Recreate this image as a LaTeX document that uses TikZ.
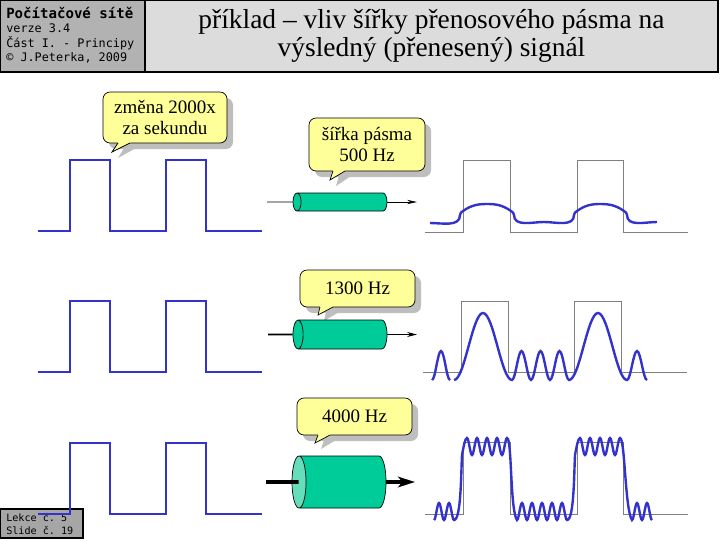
\documentclass[tikz,border=0pt]{standalone}
\usepackage{fontspec}
\setmainfont{Liberation Serif}
\setmonofont{DejaVu Sans Mono}
\usepackage{tikz}
\usetikzlibrary{
  arrows.meta,
  shapes.geometric
}
\definecolor{psBlue}{HTML}{3333CC}
\definecolor{psTube}{HTML}{00CC99}
\definecolor{psTubeL}{HTML}{66DDBB}
\definecolor{psNote}{HTML}{FFFF99}
\definecolor{psShadow}{HTML}{BEBEBE}
\definecolor{psHeadD}{HTML}{B2B2B2}
\definecolor{psHeadL}{HTML}{DCDCDC}
\definecolor{psFoot}{HTML}{A6A6A6}

\begin{document}
\begin{tikzpicture}[
  x=0.025cm, y=-0.025cm,
  every node/.style={inner sep=0pt, align=center},
  headbox/.style={draw=black, line width=0.8pt},
  monobold/.style={font=\ttfamily\bfseries\fontsize{10}{12}\selectfont, anchor=west},
  mono/.style={font=\ttfamily\fontsize{8.4}{10}\selectfont, anchor=west},
  footmono/.style={font=\ttfamily\fontsize{7.2}{9}\selectfont, anchor=west},
  title/.style={font=\fontsize{19.5}{20}\selectfont},
  square/.style={draw=psBlue, line width=1.5pt},
  refwave/.style={draw=gray, line width=0.45pt},
  sig/.style={draw=psBlue, line width=1.7pt},
  noteshadow/.style={fill=psShadow, rounded corners=5pt},
  notebox/.style={draw=black, fill=psNote, line width=0.5pt, rounded corners=5pt},
  notetip/.style={fill=psNote},
  noteedge/.style={draw=black, line width=0.5pt},
  notetext/.style={font=\fontsize{13.5}{15}\selectfont},
  tube/.style={
    cylinder, shape border rotate=180, draw=black, line width=0.5pt,
    cylinder uses custom fill, cylinder body fill=psTube,
    cylinder end fill=psTube, minimum height=2.35cm, inner xsep=0pt,
    anchor=shape center
  },
  wire1/.style={-{Stealth[length=7pt, width=3pt]}, line width=0.5pt},
  wire2/.style={-{Stealth[length=7pt, width=3.5pt]}, line width=1.1pt},
  wire3/.style={-{Stealth[length=12pt, width=7.5pt, inset=3pt]}, line width=2.6pt}
]
 \useasboundingbox (0,0) rectangle (720,540);

 % Header
 \draw[headbox, fill=psHeadD] (0.5,0.5) rectangle (145,72);
 \draw[headbox, fill=psHeadL] (145,0.5) rectangle (718,72);
 \node[monobold] (course) at (6,13) {Počítačové sítě};
 \node[mono] (ver) at (6,28) {verze 3.4};
 \node[mono] (part) at (6,43) {Část I. - Principy};
 \node[mono] (auth) at (6,58) {© J.Peterka, 2009};
 \node[title] (ttl) at (431.5,36) {příklad – vliv šířky přenosového pásma na\\výsledný (přenesený) signál};

 % Footer
 \draw[headbox, fill=psFoot] (0.5,509) rectangle (83,538);
 \node[footmono] (lect) at (6,518) {Lekce č. 5};
 \node[footmono] (slide) at (6,531) {Slide č. 19};

 % Row 1: 500 Hz
 \draw[square] (38,231) -- (70,231) -- (70,160) -- (110,160) -- (110,231) -- (166,231)
   -- (166,160) -- (206,160) -- (206,231) -- (262,231);
 \fill[noteshadow] (109,98) rectangle (233,149);
 \fill[psShadow] (124,148) -- (118,158) -- (136,148) -- cycle;
 \draw[notebox] (103,92) rectangle (227,143);
 \fill[notetip] (117,140) -- (118,143) -- (112,152) -- (130,143) -- (131,140) -- cycle;
 \draw[noteedge] (118,143) -- (112,152) -- (130,143);
 \node[notetext] (chg) at (165,117.5) {změna 2000x\\za sekundu};

 \fill[noteshadow] (315,124) rectangle (431,177);
 \fill[psShadow] (339,176) -- (336,186) -- (351,176) -- cycle;
 \draw[notebox] (309,118) rectangle (425,171);
 \fill[notetip] (332,168) -- (333,171) -- (330,180) -- (345,171) -- (346,168) -- cycle;
 \draw[noteedge] (333,171) -- (330,180) -- (345,171);
 \node[notetext] (bw1) at (367,144.5) {šířka pásma\\500 Hz};

 \node[tube, minimum width=0.45cm, inner ysep=0.225cm, aspect=0.45] (cyl1) at (340,202) {};
 \coordinate (in1) at (267,202);
 \coordinate (out1) at (417,202);
 \draw[line width=0.5pt] (in1) -- (cyl1.west);
 \draw[wire1] (cyl1.east) -- (out1);

 \draw[refwave] (425,232) -- (463,232) -- (463,160) -- (510,160) -- (510,232) -- (577,232)
   -- (577,160) -- (623,160) -- (623,232) -- (688,232);
 \draw[sig] (430,223) to[out=0,in=-90] (460,215) to[out=90,in=215] (463,211)
   to[out=35,in=180] (487,204) to[out=0,in=145] (511,211) to[out=-35,in=90] (514,215)
   to[out=-90,in=180] (544,222) to[out=0,in=-90] (574,215) to[out=90,in=215] (577,211)
   to[out=35,in=180] (600,204) to[out=0,in=145] (624,211) to[out=-35,in=90] (627,215)
   to[out=-90,in=180] (657,222);

 % Row 2: 1300 Hz
 \draw[square] (38,372) -- (70,372) -- (70,301) -- (110,301) -- (110,372) -- (166,372)
   -- (166,301) -- (206,301) -- (206,372) -- (262,372);
 \fill[noteshadow] (306,276) rectangle (421,313);
 \fill[psShadow] (326,312) -- (324,321) -- (339,312) -- cycle;
 \draw[notebox] (300,270) rectangle (415,307);
 \fill[notetip] (319,304) -- (320,307) -- (318,315) -- (333,307) -- (334,304) -- cycle;
 \draw[noteedge] (320,307) -- (318,315) -- (333,307);
 \node[notetext] (bw2) at (357.5,288.5) {1300 Hz};

 \node[tube, minimum width=0.725cm, inner ysep=0.3625cm, aspect=0.35] (cyl2) at (340,334.5) {};
 \coordinate (in2) at (268,334.5);
 \coordinate (out2) at (417,334.5);
 \draw[line width=1.1pt] (in2) -- (cyl2.west);
 \draw[wire2] (cyl2.east) -- (out2);

 \draw[refwave] (423,372) -- (461,372) -- (461,301) -- (508,301) -- (508,372) -- (574,372)
   -- (574,301) -- (621,301) -- (621,372) -- (687,372);
 \draw[sig] (432,380) cos ++(4.5,-14.5) sin ++(4.5,-14.5) cos ++(4.5,14.5) sin ++(4.5,14.5)
   (454,380) cos ++(14.5,-33.5) sin ++(14.5,-33.5) cos ++(14.5,33.5) sin ++(14.5,33.5)
   \foreach \k in {1,2,3} {
     cos ++(4.75,-14.5) sin ++(4.75,-14.5) cos ++(4.75,14.5) sin ++(4.75,14.5)
   }
   cos ++(14.5,-33.5) sin ++(14.5,-33.5) cos ++(14.5,33.5) sin ++(14.5,33.5)
   cos ++(5,-14.5) sin ++(5,-14.5) cos ++(5,14.5) sin ++(5,14.5);

 % Row 3: 4000 Hz
 \draw[square] (38,514) -- (70,514) -- (70,443) -- (110,443) -- (110,514) -- (166,514)
   -- (166,443) -- (206,443) -- (206,514) -- (262,514);
 \fill[noteshadow] (303,404) rectangle (418,441);
 \fill[psShadow] (324,440) -- (321,449) -- (336,440) -- cycle;
 \draw[notebox] (297,398) rectangle (412,435);
 \fill[notetip] (317,432) -- (318,435) -- (315,443) -- (330,435) -- (331,432) -- cycle;
 \draw[noteedge] (318,435) -- (315,443) -- (330,435);
 \node[notetext] (bw3) at (354.5,416.5) {4000 Hz};

 \node[tube, minimum width=1.3cm, inner ysep=0.65cm, aspect=0.27, cylinder end fill=psTubeL] (cyl3) at (339,482) {};
 \coordinate (in3) at (266,482);
 \coordinate (out3) at (415,482);
 \draw[line width=2.6pt] (in3) -- ([xshift=5pt]cyl3.west);
 \draw[wire3] (cyl3.east) -- (out3);

 \draw[refwave] (425,514) -- (463,514) -- (463,442) -- (510,442) -- (510,514) -- (577,514)
   -- (577,442) -- (623,442) -- (623,514) -- (688,514);
 \draw[sig] (434,520) cos ++(2.5,-8.5) sin ++(2.5,-8.5)
   cos ++(2.5,8.5) sin ++(2.5,8.5) cos ++(2.5,-8.5) sin ++(2.5,-8.5)
   cos ++(2.5,8.5) sin ++(2.5,8.5)
   .. controls (461,520) and (461,475) .. (462,455) sin (467,438)
   \foreach \k in {1,...,4} {
     cos ++(2.5,8.5) sin ++(2.5,8.5) cos ++(2.5,-8.5) sin ++(2.5,-8.5)
   }
   .. controls (512,438) and (510,510) .. (517,520)
   cos ++(2.5,-8.5) sin ++(2.5,-8.5)
   \foreach \k in {1,...,4} {
     cos ++(2.5,8.5) sin ++(2.5,8.5) cos ++(2.5,-8.5) sin ++(2.5,-8.5)
   }
   cos ++(2.5,8.5) sin ++(2.5,8.5)
   .. controls (574,520) and (574,475) .. (575,455) sin (580,438)
   \foreach \k in {1,...,4} {
     cos ++(2.5,8.5) sin ++(2.5,8.5) cos ++(2.5,-8.5) sin ++(2.5,-8.5)
   }
   .. controls (625,438) and (625,510) .. (632,520)
   cos ++(2.5,-8.5) sin ++(2.5,-8.5)
   cos ++(2.5,8.5) sin ++(2.5,8.5) cos ++(2.5,-8.5) sin ++(2.5,-8.5)
   cos ++(2.5,8.5) sin ++(2.5,8.5);
\end{tikzpicture}
\end{document}
